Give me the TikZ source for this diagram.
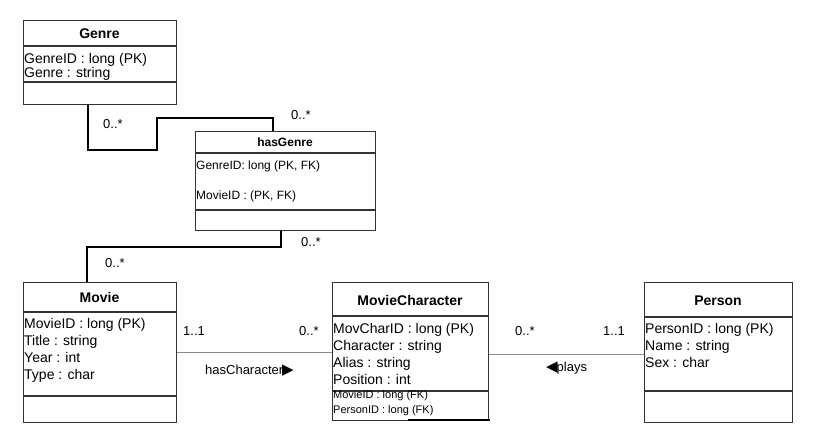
\documentclass[tikz,border=0pt]{standalone}
\usepackage{fontspec}
\setmainfont{Liberation Sans}
\newfontfamily\arrowfont{DejaVu Sans}
\usetikzlibrary{calc}

\tikzset{
    classbox/.style={draw=black!80,line width=1.1pt,inner sep=0pt,anchor=north west},
    divider/.style={draw=black!80,line width=1.1pt},
    classname/.style={anchor=base,inner sep=0pt,font=\fontsize{14}{16}\selectfont\bfseries},
    field/.style={anchor=base west,inner sep=0pt,font=\fontsize{14}{16}\selectfont},
    midfield/.style={anchor=base west,inner sep=0pt,font=\fontsize{12}{14}\selectfont},
    smallfield/.style={anchor=base west,inner sep=0pt,font=\fontsize{11}{13}\selectfont},
    mult/.style={anchor=base west,inner sep=0pt,font=\fontsize{13}{15}\selectfont},
    link/.style={draw=black,line width=1.6pt},
    assoc/.style={draw=black!45,line width=0.9pt}
}

\begin{document}
\begin{tikzpicture}[x=1pt,y=-1pt]
    \useasboundingbox (0,0) rectangle (823,440);
    % Genre
    \node[classbox,minimum width=153pt,minimum height=84pt] (genre) at (23,20) {};
    \draw[divider] (23,46) -- (176,46) (23,82) -- (176,82);
    \node[classname] (genrename) at (99.5,38) {Genre};
    \node[field] (genref1) at (24,63) {GenreID : long (PK)};
    \node[field] (genref2) at (24,77) {Genre : string};
    % hasGenre
    \node[classbox,minimum width=180pt,minimum height=99pt] (hasgenre) at (195,131) {};
    \draw[divider] (195,153) -- (375,153) (195,210) -- (375,210);
    \node[classname,font=\fontsize{12}{14}\selectfont\bfseries] (hasgenrename) at (285,146) {hasGenre};
    \node[midfield] (hasgenref1) at (196,169) {GenreID: long (PK, FK)};
    \node[midfield] (hasgenref2) at (196,199) {MovieID : (PK, FK)};
    % Movie
    \node[classbox,minimum width=153pt,minimum height=140pt] (movie) at (23,282) {};
    \draw[divider] (23,312) -- (176,312) (23,396) -- (176,396);
    \node[classname] (moviename) at (99.5,302) {Movie};
    \foreach \t [count=\i] in {MovieID : long (PK),Title : string,Year : int,Type : char}{
        \node[field] (movief\i) at (24,311+17*\i) {\t};
    }
    % MovieCharacter
    \node[classbox,minimum width=156pt,minimum height=138pt] (moviechar) at (332,282) {};
    \draw[divider] (332,316) -- (488,316) (332,391) -- (488,391);
    \draw[black,line width=1.2pt] (408,420) -- (490,420);
    \node[classname] (mcname) at (410,305) {MovieCharacter};
    \foreach \t [count=\i] in {MovCharID : long (PK),Character : string,Alias : string,Position : int}{
        \node[field] (mcf\i) at (333,316.5+17*\i) {\t};
    }
    \node[smallfield] (mcf5) at (333,398.5) {MovieID : long (FK)};
    \node[smallfield] (mcf6) at (333,413.5) {PersonID : long (FK)};
    % Person
    \node[classbox,minimum width=148pt,minimum height=140pt] (person) at (644,282) {};
    \draw[divider] (644,317) -- (792,317) (644,391) -- (792,391);
    \node[classname] (personname) at (718,305) {Person};
    \foreach \t [count=\i] in {PersonID : long (PK),Name : string,Sex : char}{
        \node[field] (personf\i) at (645,316.5+17*\i) {\t};
    }
    % links
    \draw[link] ($(genre.south west)+(65,0)$) |- (157,150) |- (273,118) -- ($(hasgenre.north west)+(78,0)$);
    \draw[link,line width=1.4pt] ($(hasgenre.south west)+(86,0)$) |- (87,247) -- ($(movie.north west)+(64,0)$);
    \draw[assoc] (movie.east) -- (movie.east -| moviechar.west);
    \draw[assoc] ($(moviechar.east)+(0,3)$) -- ($(moviechar.east -| person.west)+(0,3)$);
    % multiplicities
    \node[mult] (mga) at (103,128) {0..*};
    \node[mult] (mgb) at (291,119) {0..*};
    \node[mult] (mgc) at (301,246) {0..*};
    \node[mult] (mgd) at (105,267) {0..*};
    \node[mult] (mca) at (183,335) {1..1};
    \node[mult] (mcb) at (299,335) {0..*};
    \node[mult] (mcc) at (515,335) {0..*};
    \node[mult] (mcd) at (603,335) {1..1};
    \node[mult] (hascharacter) at (205,374) {hasCharacter\kern-1pt{\arrowfont\fontsize{15}{15}\selectfont ▶}};
    \node[mult] (plays) at (546,371) {{\arrowfont\fontsize{15}{15}\selectfont ◀}\kern-1pt plays};
\end{tikzpicture}
\end{document}
